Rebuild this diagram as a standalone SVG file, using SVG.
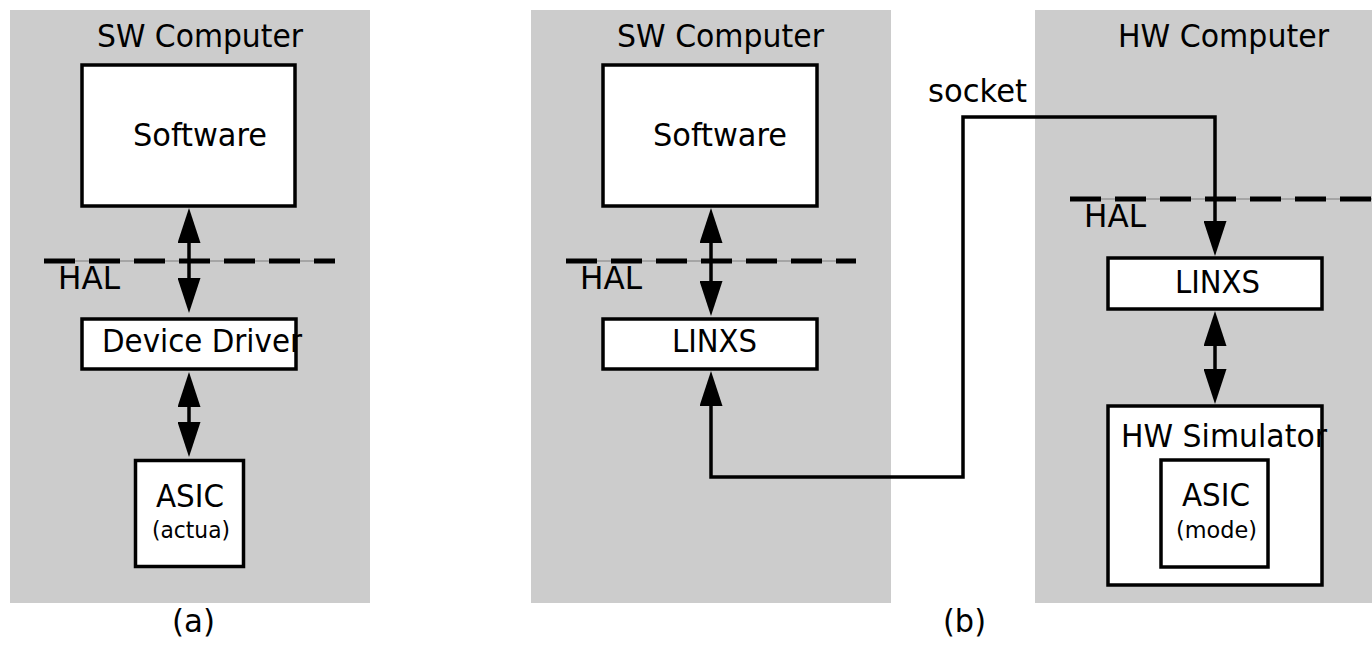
<svg xmlns="http://www.w3.org/2000/svg" width="1372" height="650" viewBox="0 0 1372 650">
  <style>
    .panel { fill: #cccccc; }
    .box { fill: #ffffff; stroke: #000000; stroke-width: 3.5; }
    .fill { fill: #ffffff; stroke: none; }
    .frame { fill: none; stroke: #000000; stroke-width: 3.5; }
    .lbl { font-family: "DejaVu Sans", Verdana, sans-serif; font-size: 32px; fill: #000000; }
    .small { font-size: 23px; }
    .wire { fill: none; stroke: #000000; stroke-width: 3.5; }
    .hal-thin { stroke: #999999; stroke-width: 1.5; }
    .hal-dash { stroke: #000000; stroke-width: 5; stroke-dasharray: 31 14; }
  </style>
  <defs>
    <marker id="head" viewBox="0 0 35 23" refX="0" refY="11.5" markerWidth="35" markerHeight="23" markerUnits="userSpaceOnUse" orient="auto-start-reverse">
      <path d="M0,0 L35,11.5 L0,23 Z" fill="#000000"/>
    </marker>
  </defs>

  <rect width="1372" height="650" fill="#ffffff"/>

  <!-- (a) single SW computer with real ASIC -->
  <g id="panel-a-sw">
    <rect class="panel" x="10" y="10" width="360" height="593"/>
    <text class="lbl" x="97" y="47" textLength="206" lengthAdjust="spacingAndGlyphs">SW Computer</text>
  </g>
  <g id="hal-a">
    <line class="hal-thin" x1="44" y1="261" x2="335" y2="261"/>
    <line class="hal-dash" x1="44" y1="261" x2="335" y2="261"/>
    <text class="lbl" x="58" y="289" textLength="62" lengthAdjust="spacingAndGlyphs">HAL</text>
  </g>
  <g id="a-software">
    <rect class="box" x="82" y="65" width="213" height="141"/>
    <text class="lbl" x="133" y="146" textLength="134" lengthAdjust="spacingAndGlyphs">Software</text>
  </g>
  <g id="a-driver">
    <rect class="fill" x="82" y="319" width="214" height="50"/>
    <text class="lbl" x="102" y="352" textLength="200" lengthAdjust="spacingAndGlyphs">Device Driver</text>
    <rect class="frame" x="82" y="319" width="214" height="50"/>
  </g>
  <g id="a-asic">
    <rect class="box" x="135.5" y="460.5" width="108" height="106"/>
    <text class="lbl" x="156" y="507" textLength="68" lengthAdjust="spacingAndGlyphs">ASIC</text>
    <text class="lbl small" x="152" y="538" textLength="78" lengthAdjust="spacingAndGlyphs">(actua)</text>
  </g>
  <text class="lbl" x="172" y="632" textLength="43" lengthAdjust="spacingAndGlyphs">(a)</text>

  <!-- (b) SW computer linked to HW computer running the simulator -->
  <g id="panel-b-sw">
    <rect class="panel" x="531" y="10" width="360" height="593"/>
    <text class="lbl" x="617" y="47" textLength="207" lengthAdjust="spacingAndGlyphs">SW Computer</text>
  </g>
  <g id="panel-b-hw">
    <rect class="panel" x="1035" y="10" width="337" height="593"/>
    <text class="lbl" x="1118" y="47" textLength="211" lengthAdjust="spacingAndGlyphs">HW Computer</text>
  </g>
  <g id="hal-b-sw">
    <line class="hal-thin" x1="566" y1="261" x2="856" y2="261"/>
    <line class="hal-dash" x1="566" y1="261" x2="856" y2="261"/>
    <text class="lbl" x="580" y="289" textLength="62" lengthAdjust="spacingAndGlyphs">HAL</text>
  </g>
  <g id="hal-b-hw">
    <line class="hal-thin" x1="1070" y1="199" x2="1372" y2="199"/>
    <line class="hal-dash" x1="1070" y1="199" x2="1372" y2="199"/>
    <text class="lbl" x="1084" y="227" textLength="62" lengthAdjust="spacingAndGlyphs">HAL</text>
  </g>
  <g id="b-software">
    <rect class="box" x="603" y="65" width="214" height="141"/>
    <text class="lbl" x="653" y="146" textLength="134" lengthAdjust="spacingAndGlyphs">Software</text>
  </g>
  <g id="b-linxs-sw">
    <rect class="box" x="603" y="319" width="214" height="50"/>
    <text class="lbl" x="672" y="352" textLength="85" lengthAdjust="spacingAndGlyphs">LINXS</text>
  </g>
  <g id="b-linxs-hw">
    <rect class="box" x="1108" y="258" width="214" height="51"/>
    <text class="lbl" x="1175" y="293" textLength="85" lengthAdjust="spacingAndGlyphs">LINXS</text>
  </g>
  <g id="b-simulator">
    <rect class="fill" x="1108" y="406" width="214" height="179"/>
    <text class="lbl" x="1121" y="447" textLength="206" lengthAdjust="spacingAndGlyphs">HW Simulator</text>
    <rect class="frame" x="1108" y="406" width="214" height="179"/>
  </g>
  <g id="b-asic-model">
    <rect class="box" x="1161" y="460" width="107" height="107"/>
    <text class="lbl" x="1182" y="506" textLength="68" lengthAdjust="spacingAndGlyphs">ASIC</text>
    <text class="lbl small" x="1176" y="538" textLength="81" lengthAdjust="spacingAndGlyphs">(mode)</text>
  </g>
  <text class="lbl" x="928" y="102" textLength="99" lengthAdjust="spacingAndGlyphs">socket</text>
  <text class="lbl" x="943" y="632" textLength="43" lengthAdjust="spacingAndGlyphs">(b)</text>

  <!-- connectors -->
  <g id="connectors">
    <line class="wire" x1="189" y1="243" x2="189" y2="278" marker-start="url(#head)" marker-end="url(#head)"/>
    <line class="wire" x1="189" y1="407" x2="189" y2="422" marker-start="url(#head)" marker-end="url(#head)"/>
    <line class="wire" x1="711" y1="243" x2="711" y2="281" marker-start="url(#head)" marker-end="url(#head)"/>
    <path class="wire" d="M711,406 L711,477 L963,477 L963,117 L1215,117 L1215,221" marker-start="url(#head)" marker-end="url(#head)"/>
    <line class="wire" x1="1215" y1="346" x2="1215" y2="369" marker-start="url(#head)" marker-end="url(#head)"/>
  </g>
</svg>
